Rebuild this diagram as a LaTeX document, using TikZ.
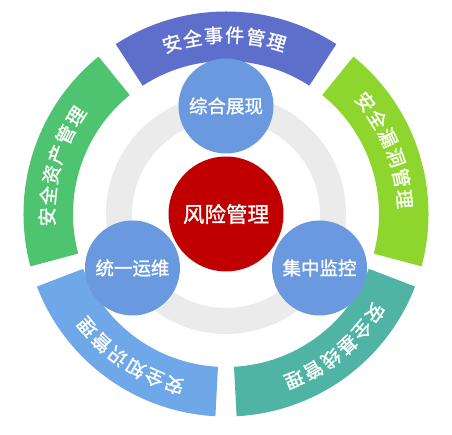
\documentclass[tikz,border=0pt]{standalone}
\usepackage{fontspec}
\newfontfamily\cjk{Noto Sans CJK SC}[FakeBold=1.2]
\definecolor{segTop}{HTML}{5E6FCB}
\definecolor{segRight}{HTML}{8ED62E}
\definecolor{segBR}{HTML}{50B4A5}
\definecolor{segBL}{HTML}{6EA8E8}
\definecolor{segLeft}{HTML}{4EC470}
\definecolor{ballblue}{HTML}{6B99E0}
\definecolor{corered}{HTML}{C00000}
\definecolor{ringgray}{HTML}{EBEBEB}
\tikzset{
  arcchar/.style={text=white, font=\cjk\fontsize{19pt}{19pt}\selectfont, inner sep=0pt},
  ball/.style={circle, fill=ballblue, minimum size=95pt, inner sep=0pt, text=white,
    font=\cjk\fontsize{18.5pt}{18.5pt}\selectfont},
  core/.style={circle, fill=corered, minimum size=115pt, inner sep=0pt, text=white,
    font=\cjk\fontsize{21.5pt}{21.5pt}\selectfont},
  grayring/.style={draw=ringgray, line width=26pt}
}
\newcommand\ringseg[2]{%
  \fill[#2] (#1-33:153pt) arc[start angle=#1-33, end angle=#1+33, radius=153pt]
    -- (#1+33:202.5pt) arc[start angle=#1+33, end angle=#1-33, radius=202.5pt] -- cycle;}
\newcommand\arclabel[3]{%
  \foreach \ch [count=\i from 0] in {#3} {
    \pgfmathsetmacro\ang{#2-6.8*\i}
    \node[arcchar, rotate=\ang-90] (#1-\i) at (\ang:179pt) {\ch};
  }}
\begin{document}
\begin{tikzpicture}
  \fill[white] (-226pt,-221pt) rectangle (226pt,214pt);
  \useasboundingbox (-226pt,-221pt) rectangle (226pt,214pt);
  % outer ring segments
  \ringseg{90}{segTop}
  \ringseg{18}{segRight}
  \ringseg{-54}{segBR}
  \ringseg{234}{segBL}
  \ringseg{162}{segLeft}
  % gray ring
  \draw[grayring] (0,0) circle[radius=107pt];
  % centre and satellites
  \node[core] (risk) at (0,0) {风险管理};
  \node[ball] (show) at (90:108pt) {综合展现};
  \node[ball] (ops) at (210:108pt) {统一运维};
  \node[ball] (mon) at (330:108pt) {集中监控};
  % arc labels
  \arclabel{lt}{107.6}{安,全,事,件,管,理}
  \arclabel{lr}{38.8}{安,全,漏,洞,管,理}
  \arclabel{lbr}{-33.6}{安,全,基,线,管,理}
  \arclabel{lbl}{253.2}{安,全,知,识,管,理}
  \arclabel{ll}{180.9}{安,全,资,产,管,理}
\end{tikzpicture}
\end{document}
